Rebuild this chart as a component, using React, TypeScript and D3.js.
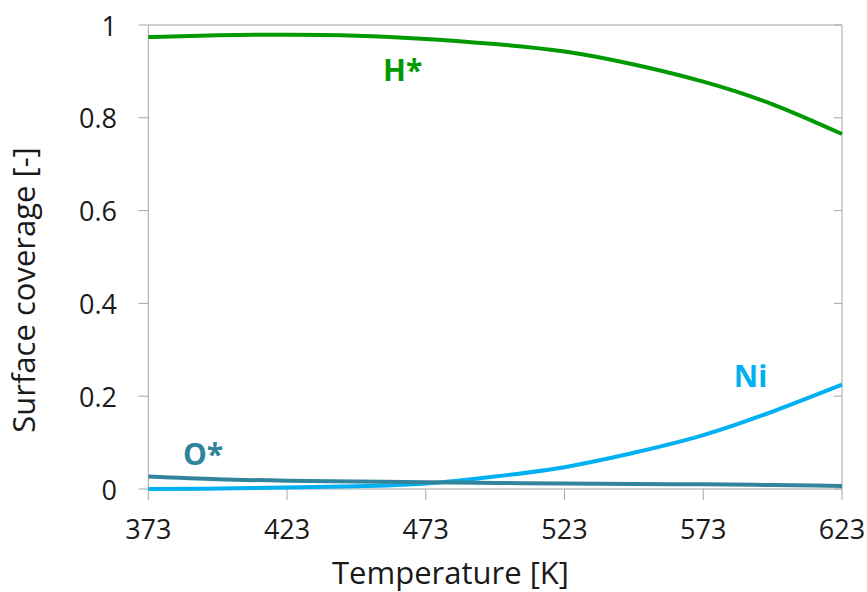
import React from "react";
import * as d3 from "d3";

const temperatures = [373, 398, 423, 448, 473, 498, 523, 548, 573, 598, 623];
const hStar = [0.974, 0.978, 0.979, 0.977, 0.970, 0.959, 0.943, 0.915, 0.878, 0.829, 0.765];
const ni = [0.000, 0.001, 0.003, 0.006, 0.012, 0.027, 0.047, 0.078, 0.116, 0.167, 0.225];
const oStar = [0.027, 0.021, 0.018, 0.016, 0.0145, 0.013, 0.012, 0.011, 0.010, 0.0085, 0.0065];
const xTicks = [373, 423, 473, 523, 573, 623];
const yTicks = [0, 0.2, 0.4, 0.6, 0.8, 1];
const yTickLabels = ["0", "0.2", "0.4", "0.6", "0.8", "1"];
const seriesNames = ["H*", "Ni", "O*"];
const seriesColors = ["#009a00", "#00b0f0", "#31849b"];

const W = 867;
const H = 592;
const left = 148.3;
const right = 842;
const top = 25;
const bottom = 489;
const font = "'Open Sans', sans-serif";

export default function App() {
  const x = d3.scaleLinear().domain([373, 623]).range([left, right]);
  const y = d3.scaleLinear().domain([0, 1]).range([bottom, top]);
  const line = d3
    .line<number>()
    .x((_, i) => x(temperatures[i]))
    .y((d) => y(d))
    .curve(d3.curveNatural);
  const series = [hStar, ni, oStar];
  const labelPos = [
    { t: 457.6, v: 0.879 },
    { t: 584, v: 0.219 },
    { t: 385.5, v: 0.052 },
  ];
  const axisColor = "#a6a6a6";
  return (
    <svg width={W} height={H} style={{ position: "absolute", left: 0, top: 0 }}>
      <rect x={0} y={0} width={W} height={H} fill="#fff" />
      <line x1={left} x2={right} y1={top} y2={top} stroke={axisColor} strokeWidth={1} />
      <line x1={right} x2={right} y1={top} y2={bottom} stroke={axisColor} strokeWidth={1} />
      <line x1={left} x2={left} y1={top} y2={bottom} stroke={axisColor} strokeWidth={1} />
      <line x1={left} x2={right} y1={bottom} y2={bottom} stroke={axisColor} strokeWidth={1} />
      {yTicks.map((v, i) => (
        <g key={"y" + i}>
          <line x1={left - 10} x2={left} y1={y(v)} y2={y(v)} stroke={axisColor} />
          <line x1={right - 8} x2={right} y1={y(v)} y2={y(v)} stroke={axisColor} />
          <text
            x={117}
            y={y(v)}
            textAnchor="end"
            dominantBaseline="central"
            fontFamily={font}
            fontSize={27}
            fill="#1a1a1a"
          >
            {yTickLabels[i]}
          </text>
        </g>
      ))}
      {xTicks.map((t) => (
        <g key={"x" + t}>
          <line x1={x(t)} x2={x(t)} y1={bottom} y2={bottom + 11} stroke={axisColor} />
          <text
            x={x(t)}
            y={539}
            textAnchor="middle"
            fontFamily={font}
            fontSize={27}
            fill="#1a1a1a"
          >
            {t}
          </text>
        </g>
      ))}
      {series.map((s, i) => (
        <path
          key={"s" + i}
          d={line(s) || ""}
          fill="none"
          stroke={seriesColors[i]}
          strokeWidth={4}
          strokeLinejoin="round"
        />
      ))}
      {seriesNames.map((n, i) => (
        <text
          key={"l" + i}
          x={x(labelPos[i].t)}
          y={y(labelPos[i].v)}
          fontFamily={font}
          fontWeight="bold"
          fontSize={30}
          fill={seriesColors[i]}
        >
          {n}
        </text>
      ))}
      <text
        x={450.5}
        y={584}
        textAnchor="middle"
        fontFamily={font}
        fontSize={31}
        fill="#1a1a1a"
      >
        Temperature [K]
      </text>
      <text
        transform={`translate(35, 290) rotate(-90)`}
        textAnchor="middle"
        fontFamily={font}
        fontSize={31}
        fill="#1a1a1a"
      >
        Surface coverage [-]
      </text>
    </svg>
  );
}
